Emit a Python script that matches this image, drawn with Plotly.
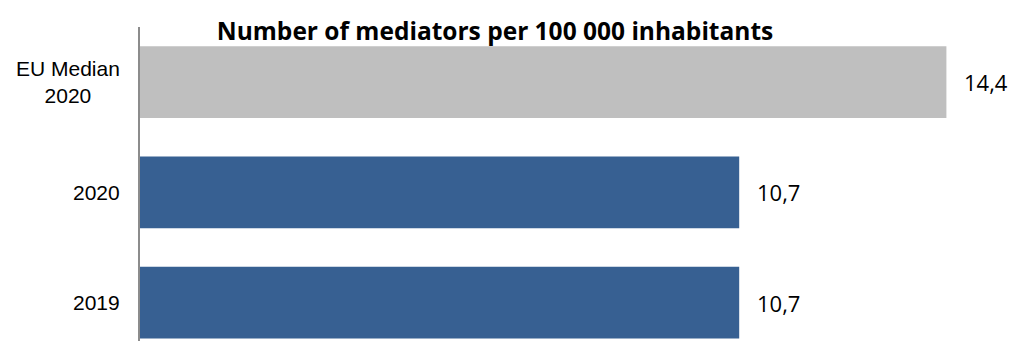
import plotly.graph_objects as go

categories = ["2019", "2020", "EU Median 2020"]
cat_labels = ["2019", "2020", "EU Median<br>2020"]
values = [10.7, 10.7, 14.4]
value_labels = ["10,7", "10,7", "14,4"]
bar_colors = ["#376092", "#376092", "#BFBFBF"]
title_text = "Number of mediators per 100 000 inhabitants"

fig = go.Figure()
fig.add_trace(go.Bar(
    y=categories, x=values, orientation="h",
    marker=dict(color=bar_colors, line=dict(width=0)),
    width=0.65, hoverinfo="skip",
))

# category axis positions are indices 0..n-1
for i, (v, t) in enumerate(zip(values, value_labels)):
    fig.add_annotation(x=v, y=i, xref="x", yref="y", text=t, showarrow=False,
                       xanchor="left", yanchor="middle", xshift=16,
                       font=dict(family="Open Sans", size=22, color="#000000"))

for i, t in enumerate(cat_labels):
    fig.add_annotation(x=0, y=i, xref="paper", yref="y", text=t, showarrow=False,
                       xanchor="right", yanchor="middle", xshift=-18, align="center",
                       font=dict(family="Liberation Sans", size=21, color="#000000"))

fig.update_layout(
    width=1012, height=341,
    margin=dict(l=140, r=12, t=27, b=0),
    paper_bgcolor="white", plot_bgcolor="white",
    showlegend=False,
    title=dict(text="<b>" + title_text + "</b>", x=495/1012, xanchor="center",
               y=1 - 31/341, yanchor="middle", yref="container",
               font=dict(family="Open Sans", size=24.5, color="#000000")),
    xaxis=dict(range=[0, 860/56], visible=False, showgrid=False, zeroline=False),
    yaxis=dict(type="category", categoryorder="array", categoryarray=categories,
               range=[-0.348, 2.5], showticklabels=False, showgrid=False,
               zeroline=False, showline=True, linecolor="#8C8C8C", linewidth=2,
               ticks=""),
)

fig.write_html("out.html", config={"displayModeBar": False},
               post_script="document.body.style.margin='0';document.body.style.overflow='hidden';")
